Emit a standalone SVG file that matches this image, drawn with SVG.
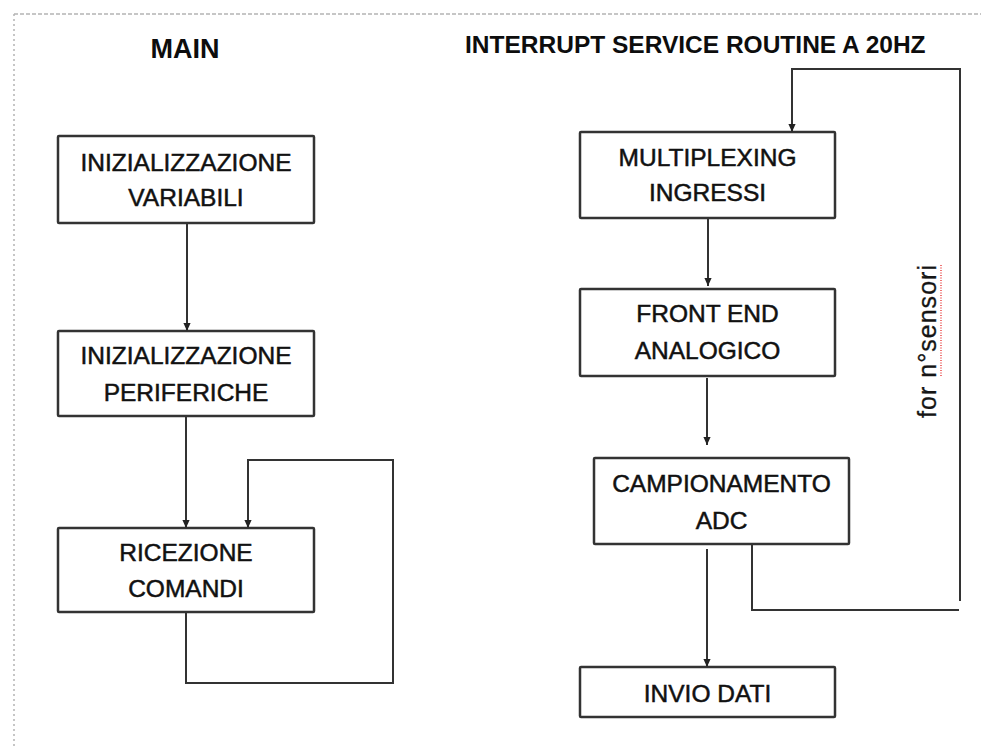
<svg xmlns="http://www.w3.org/2000/svg" width="981" height="747" viewBox="0 0 981 747">
  <defs>
    <marker id="arrow" viewBox="0 0 10 10" refX="10" refY="5" markerUnits="userSpaceOnUse" markerWidth="8" markerHeight="8" orient="auto">
      <path d="M0,0.5 L10,5 L0,9.5 z" fill="#222"/>
    </marker>
  </defs>
  <style>
    .box { fill: #fff; stroke: #333; stroke-width: 2.5; }
    .label { font-family: "Liberation Sans", Arial, sans-serif; font-size: 24.5px; fill: #111; stroke: #111; stroke-width: 0.5; text-anchor: middle; }
    .title { font-family: "Liberation Sans", Arial, sans-serif; font-size: 24.5px; font-weight: bold; fill: #0d0d0d; }
    .wire { fill: none; stroke: #333; stroke-width: 2; }
    .frame { fill: none; stroke: #b4b4b4; stroke-width: 1.5; }
  </style>

  <rect width="981" height="747" fill="#fff"/>

  <!-- page frame -->
  <g id="frame">
    <line class="frame" x1="14" y1="14" x2="981" y2="14" stroke-dasharray="4 2"/>
    <line class="frame" x1="14" y1="14" x2="14" y2="747" stroke-dasharray="2 3"/>
  </g>

  <!-- section headings -->
  <g id="headings">
    <text class="title" x="185" y="58" text-anchor="middle" style="font-size:27px">MAIN</text>
    <text class="title" x="465" y="53">INTERRUPT SERVICE ROUTINE A 20HZ</text>
  </g>

  <!-- main loop -->
  <g id="init-variabili">
    <rect class="box" x="58" y="136" width="256" height="87" rx="1"/>
    <text class="label" x="186" y="171">INIZIALIZZAZIONE</text>
    <text class="label" x="186" y="206">VARIABILI</text>
  </g>
  <g id="init-periferiche">
    <rect class="box" x="58" y="331" width="256" height="85" rx="1"/>
    <text class="label" x="186" y="364">INIZIALIZZAZIONE</text>
    <text class="label" x="186" y="401">PERIFERICHE</text>
  </g>
  <g id="ricezione-comandi">
    <rect class="box" x="58" y="528" width="256" height="84" rx="1"/>
    <text class="label" x="186" y="561">RICEZIONE</text>
    <text class="label" x="186" y="597">COMANDI</text>
  </g>

  <!-- interrupt routine -->
  <g id="multiplexing">
    <rect class="box" x="580" y="132" width="255" height="86" rx="1"/>
    <text class="label" x="707.5" y="166">MULTIPLEXING</text>
    <text class="label" x="707.5" y="201">INGRESSI</text>
  </g>
  <g id="front-end">
    <rect class="box" x="580" y="289" width="255" height="87" rx="1"/>
    <text class="label" x="707.5" y="322">FRONT END</text>
    <text class="label" x="707.5" y="359">ANALOGICO</text>
  </g>
  <g id="campionamento">
    <rect class="box" x="594" y="458" width="255" height="86" rx="1"/>
    <text class="label" x="721.5" y="492">CAMPIONAMENTO</text>
    <text class="label" x="721.5" y="529">ADC</text>
  </g>
  <g id="invio-dati">
    <rect class="box" x="580" y="667" width="255" height="50" rx="1"/>
    <text class="label" x="707.5" y="702">INVIO DATI</text>
  </g>

  <!-- connectors -->
  <g id="connectors">
    <path class="wire" d="M187,223 V331" marker-end="url(#arrow)"/>
    <path class="wire" d="M186,416 V528" marker-end="url(#arrow)"/>
    <path class="wire" d="M186,612 V683 H393 V460 H248 V528" marker-end="url(#arrow)"/>
    <path class="wire" d="M960,601 V69 H792 V132" marker-end="url(#arrow)"/>
    <path class="wire" d="M752,544 V610 H959"/>
    <path class="wire" d="M708,218 V286" marker-end="url(#arrow)"/>
    <path class="wire" d="M707,378 V445" marker-end="url(#arrow)"/>
    <path class="wire" d="M707,549 V667" marker-end="url(#arrow)"/>
  </g>

  <!-- loop label -->
  <g id="loop-label">
    <text font-family="'Liberation Sans', Arial, sans-serif" font-size="25" fill="#151515" stroke="#151515" stroke-width="0.3" textLength="153" lengthAdjust="spacing" transform="translate(936,418) rotate(-90)">for n°sensori</text>
    <line x1="941" y1="265" x2="941" y2="377" stroke="#e66" stroke-width="1.8" stroke-dasharray="1 1.5"/>
  </g>
</svg>
